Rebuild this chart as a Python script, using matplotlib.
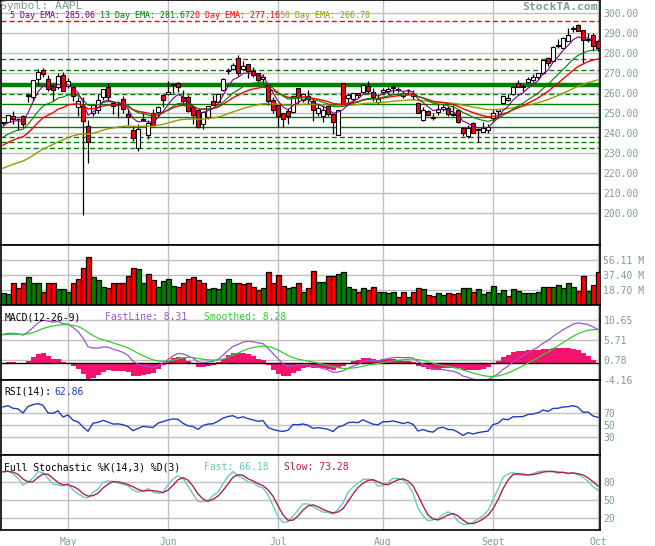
import numpy as np
import matplotlib.pyplot as plt

plt.rcParams['font.family'] = ['DejaVu Sans Mono']

# AAPL daily candles, 14 Apr - 1 Oct (one entry per session)
opens = [245.28, 245.78, 248.57, 247.03, 248.54, 258.80, 258.24, 267.00, 271.87, 267.27, 263.46, 263.02, 269.31,
         263.84, 262.93, 253.03, 253.62, 243.67, 250.25, 251.54, 257.99, 263.22, 255.20, 254.70, 257.06, 249.49, 241.88,
         232.82, 247.28, 239.35, 250.06, 250.47, 259.39,
         259.69, 264.54, 265.18, 258.21, 258.29, 253.24, 251.47, 244.84, 248.23, 255.96, 255.64, 261.68, 270.98, 272.16,
         277.69, 272.16, 274.58, 271.00, 270.06, 266.93, 264.12, 256.78,
         254.30, 250.05, 251.00, 250.54, 262.48, 256.89, 258.53, 256.20, 249.99, 248.60, 253.51, 249.88, 239.26, 265.09,
         257.68, 257.09, 260.00, 260.87, 263.67, 260.71, 255.89,
         260.44, 261.01, 262.84, 261.73, 258.78, 261.48, 258.75, 255.00, 246.69, 251.32, 247.58, 250.75, 252.36, 252.75,
         249.39, 251.79, 242.67, 238.52, 245.10, 241.75, 240.76, 241.85,
         247.47, 251.26, 255.09, 256.64, 259.78, 265.04, 263.19, 265.82, 266.85, 268.17, 270.24, 277.69, 276.08, 283.86,
         282.73, 286.00, 292.10, 293.93, 291.77, 286.45, 289.12,
         286.15]
highs = [245.81, 249.03, 251.14, 247.89, 249.25, 260.25, 266.75, 272.18, 272.46, 269.35, 264.59, 270.00, 270.57,
         267.88, 263.00, 258.14, 258.25, 246.57, 254.65, 259.90, 262.25, 265.00, 256.30, 256.18, 258.55, 252.80, 243.85,
         244.50, 250.90, 246.76, 252.13, 253.50, 259.40,
         265.94, 264.80, 265.55, 261.90, 259.15, 253.80, 251.90, 250.98, 253.86, 259.15, 259.85, 267.75, 272.90, 275.00,
         279.01, 275.97, 274.66, 273.20, 270.27, 269.75, 264.39, 257.97,
         254.80, 250.15, 252.80, 258.77, 262.90, 259.90, 261.85, 256.93, 254.90, 254.27, 253.89, 249.90, 251.90, 265.15,
         260.00, 260.38, 260.10, 264.80, 265.99, 262.65, 259.70,
         262.59, 263.26, 264.28, 263.18, 261.00, 262.15, 261.50, 255.51, 253.10, 251.87, 250.01, 254.63, 254.67, 253.64,
         253.92, 252.00, 243.00, 244.00, 245.75, 242.61, 245.75, 244.56,
         251.46, 252.17, 258.78, 259.53, 264.39, 266.52, 264.50, 268.28, 269.50, 270.38, 276.67, 277.96, 283.78, 287.35,
         287.98, 292.76, 293.53, 294.73, 291.77, 290.28, 290.00,
         286.58]
lows = [244.07, 245.51, 244.55, 241.77, 242.96, 255.73, 256.20, 264.10, 268.19, 261.25, 256.21, 262.01, 261.00,
        262.88, 256.19, 248.73, 199.25, 225.40, 248.53, 250.01, 256.52, 256.40, 249.48, 247.71, 250.27, 244.30, 236.21,
        231.35, 246.26, 237.16, 243.75, 248.23, 253.35,
        258.96, 260.33, 260.41, 254.63, 250.55, 244.65, 242.49, 242.20, 247.37, 254.01, 255.50, 261.02, 269.50, 271.42,
        268.73, 271.50, 267.90, 268.10, 265.81, 264.52, 254.30, 250.01,
        243.22, 243.20, 244.56, 250.00, 254.90, 255.73, 254.86, 246.15, 248.67, 245.66, 248.70, 239.60, 239.10, 254.00,
        255.31, 256.28, 257.71, 260.30, 260.25, 255.92, 254.61,
        259.62, 259.42, 260.30, 260.55, 257.59, 259.57, 256.43, 250.00, 246.12, 249.03, 246.62, 249.20, 251.26, 248.60,
        248.68, 245.25, 238.65, 237.56, 240.05, 235.56, 240.68, 240.35,
        246.28, 248.57, 254.50, 256.25, 259.10, 262.92, 261.40, 265.76, 265.50, 267.20, 269.50, 273.68, 275.85, 282.79,
        282.41, 286.00, 290.55, 291.01, 275.00, 285.52, 281.25,
        281.35]
closes = [245.69, 248.92, 247.40, 247.07, 244.59, 259.22, 266.47, 270.83, 269.50, 262.04, 261.60, 268.64, 261.09,
          266.35, 258.68, 255.98, 246.25, 235.86, 253.99, 256.52, 262.09, 258.36, 253.82, 254.22, 252.36, 248.34, 237.76,
          242.32, 246.76, 245.22, 244.11, 253.35, 256.88,
          260.83, 263.95, 263.12, 255.96, 250.94, 249.33, 243.20, 250.51, 253.51, 254.28, 259.69, 267.25, 271.87, 274.07,
          270.17, 273.85, 270.97, 269.00, 266.70, 268.30, 256.17, 251.53,
          248.48, 246.94, 248.63, 258.66, 258.09, 259.62, 257.28, 251.80, 252.73, 251.45, 249.90, 245.58, 251.89, 254.24,
          259.02, 259.94, 259.28, 264.08, 260.96, 258.11, 257.25,
          261.85, 261.93, 262.98, 261.70, 260.09, 261.75, 259.41, 250.19, 251.79, 249.10, 247.64, 251.97, 253.07, 249.88,
          249.64, 245.80, 239.93, 242.89, 240.28, 241.62, 242.50, 243.10,
          250.33, 252.17, 258.77, 257.81, 262.92, 263.07, 263.41, 267.04, 268.06, 270.22, 276.57, 275.37, 283.23, 283.77,
          287.75, 288.92, 292.32, 291.16, 286.86, 287.37, 283.75,
          282.52]
# volume in millions of shares, G = up day, R = down day
volumes = [14.6, 13.1, 27, 20.8, 27, 35, 28, 28, 16.6, 27, 27, 19.5, 19.5, 16.6, 27, 32, 46.5, 59.4, 35, 30.7,
           22.9, 21.6, 27, 27, 28, 36.6, 45.7, 44.5, 27, 38.2, 30.7, 22.9, 29.9, 32, 24.1, 22.9, 27, 32, 35, 30.7,
           28, 19.5, 21.6, 20, 28, 32, 28, 28, 26, 28, 22.9, 18.7, 20.8, 40.8, 27, 37, 24, 21.6, 22.9, 28,
           15.9, 21.6, 43, 29, 29, 36.6, 36.6, 38.2, 41.5, 22.9, 19.5, 15.9, 20.8, 18.7, 22.9, 15.9, 15.9, 14.6, 15.9, 10.4,
           15.9, 10.4, 15.9, 21.6, 19.5, 12.5, 11.6, 15.4, 12.5, 15.4, 13.3, 14.6, 21.6, 21.6, 16.6, 19.5, 13.3, 15.9, 24.1, 14.6,
           18.7, 11.6, 19.5, 17.4, 14.6, 14.6, 14.6, 16.6, 22.9, 22.9, 22.9, 24.9, 21.6, 28, 22.9, 17.4, 36.6, 17.4, 24.9, 40.8]
vol_dir = ("GGRRRGGGRR" "RGGGRRRRGG" "GRRRRRRGGR" "RGGGGRRRRR" "RGGGGGGRRR" "RRGRRRRGGR"
           "GRRGGR" "RGGGGRGRRG" "GGGRRGRRGR" "RGGRRRGGRG" "GGGGGRGGGG" "GGGRGGGGGR" "RGRR")

# 17 sessions before the window, used only for the stochastic lookback
pre_highs = [225.0, 226.0, 228.9, 229.9, 230.6, 231.5, 233.0, 236.6, 236.5, 236.6, 238.7, 240.2, 241.9, 241.2, 241.9, 243.0, 243.0]
pre_lows = [221.9, 220.0, 224.7, 225.7, 226.4, 228.0, 231.0, 232.7, 234.3, 232.5, 234.8, 237.5, 238.7, 237.2, 239.1, 241.8, 240.2]
pre_closes = [222.25, 224.75, 228.36, 229.37, 226.65, 230.90, 232.39, 235.84, 235.00, 235.97, 238.49, 239.54, 240.60,
              239.95, 241.79, 242.29, 242.43]

# indicator values at the left edge
ema5_start, ema13_start, ema20_start, ema50_start = 243.5, 238.0, 234.0, 222.5
ema12_start, ema26_start, signal_start = 239.0, 231.9, 7.0
rsi_gain_start, rsi_loss_start = 1.6, 0.4

# support / resistance levels
dashed_levels = [277.0, 271.5, 259.5, 238.0, 235.5, 232.5]
solid_levels = [254.8, 248.0, 243.2]
thick_level = 264.2
red_level = 296.2

month_pos = [13, 33, 55, 76, 98, 119]
month_names = ['May', 'Jun', 'Jul', 'Aug', 'Sept', 'Oct']
price_ticks = list(range(200, 310, 10))
vol_ticks = [18.70, 37.40, 56.11]
macd_ticks = [-4.16, 0.78, 5.71, 10.65]
rsi_ticks = [30, 50, 70]
stoch_ticks = [20, 50, 80]

label_col = '#7f9f8f'
grid_col = '#c0c0c0'


def ema(values, span, first):
    k = 2.0 / (span + 1)
    out = [first]
    for v in values[1:]:
        out.append(out[-1] + k * (v - out[-1]))
    return np.array(out)


n = len(closes)
x = np.arange(n)
o, h, l, c = map(np.array, (opens, highs, lows, closes))

ema5 = ema(closes, 5, ema5_start)
ema13 = ema(closes, 13, ema13_start)
ema20 = ema(closes, 20, ema20_start)
ema50 = ema(closes, 50, ema50_start)

macd = ema(closes, 12, ema12_start) - ema(closes, 26, ema26_start)
signal = ema(macd, 9, signal_start)
hist = (macd - signal) * 1.2

gain, loss = rsi_gain_start, rsi_loss_start
rsi = [100 - 100 / (1 + gain / loss)]
for i in range(1, n):
    d = closes[i] - closes[i - 1]
    gain = (gain * 13 + max(d, 0)) / 14
    loss = (loss * 13 + max(-d, 0)) / 14
    rsi.append(100 - 100 / (1 + gain / loss))

all_h = pre_highs + highs
all_l = pre_lows + lows
all_c = pre_closes + closes
raw_k = []
for i in range(13, len(all_c)):
    hh, ll = max(all_h[i - 13:i + 1]), min(all_l[i - 13:i + 1])
    raw_k.append(100 * (all_c[i] - ll) / (hh - ll))
fast = np.convolve(raw_k, np.ones(3) / 3, 'valid')
slow = np.convolve(fast, np.ones(3) / 3, 'valid')
fast = fast[2:]

W, H = 655, 546
fig = plt.figure(figsize=(W / 100, H / 100), dpi=100)


def panel(top, bottom):
    ax = fig.add_axes([1 / W, 1 - bottom / H, 599 / W, (bottom - top) / H])
    ax.set_xlim(-0.4, n - 0.6)
    ax.set_xticks(month_pos)
    ax.xaxis.grid(True, color=grid_col, lw=1)
    ax.yaxis.tick_right()
    ax.tick_params(axis='both', length=0, labelsize=7, labelcolor=label_col, pad=2.5)
    ax.tick_params(axis='x', labelbottom=False)
    for s in ax.spines.values():
        s.set_color('black')
        s.set_linewidth(1.2)
    ax.set_axisbelow(True)
    return ax


def ptext(px, py, s, color='black', size=7, **kw):
    fig.text(px / W, 1 - py / H, s, color=color, fontsize=size, va='center', **kw)


# price panel
ax = panel(0, 245)
ax.set_ylim(184.15, 306.65)
ax.set_yticks(price_ticks)
ax.set_yticklabels(['%.2f' % v for v in price_ticks])
ax.yaxis.grid(True, color=grid_col, lw=1)
for lev in dashed_levels:
    ax.axhline(lev, color='#008000', lw=1.0, ls=(0, (3.6, 2.2)), zorder=1)
for lev in solid_levels:
    ax.axhline(lev, color='#008000', lw=1.0, zorder=1)
ax.axhline(thick_level, color='#008000', lw=3.2, zorder=1)
ax.axhline(red_level, color='#ff0000', lw=1.0, ls=(0, (3.6, 2.2)), zorder=1)
ax.vlines(x, l, h, color='black', lw=0.9, zorder=2)
body_col = np.where(c >= o, 'white', '#ff0000')
body_h = np.maximum(np.abs(c - o), 0.35)
ax.bar(x, body_h, bottom=np.minimum(o, c), width=0.8, color=body_col, edgecolor='black', lw=0.8, zorder=3)
ax.plot(x, ema50, color='#999900', lw=1.0, zorder=4)
ax.plot(x, ema20, color='#ff0000', lw=1.0, zorder=4)
ax.plot(x, ema13, color='#008000', lw=0.8, zorder=4)
ax.plot(x, ema5, color='#800080', lw=0.8, zorder=4)

# volume panel
ax = panel(245, 305)
ax.set_ylim(0, 74.8)
ax.set_yticks(vol_ticks)
ax.set_yticklabels(['%.2f M' % v for v in vol_ticks])
ax.yaxis.grid(True, color=grid_col, lw=1)
vcol = ['#008000' if d == 'G' else '#ff0000' for d in vol_dir]
ax.bar(x, volumes, width=1.0, color=vcol, edgecolor='black', lw=0.9, zorder=3)

# MACD panel
ax = panel(305, 380)
ax.set_ylim(-4.16, 14.35)
ax.set_yticks(macd_ticks)
ax.set_yticklabels(['%.2f' % v for v in macd_ticks])
ax.yaxis.grid(True, color=grid_col, lw=1)
ax.bar(x, hist, width=1.0, color='#f5136f', lw=0, zorder=2)
ax.axhline(0, color='black', lw=1.0, zorder=3)
ax.plot(x, macd, color='#9955cc', lw=0.9, zorder=4)
ax.plot(x, signal, color='#33cc33', lw=0.9, zorder=4)

# RSI panel
ax = panel(380, 455)
ax.set_ylim(0, 125)
ax.set_yticks(rsi_ticks)
ax.yaxis.grid(True, color=grid_col, lw=1)
ax.plot(x, rsi, color='#1a3fc0', lw=1.0)

# stochastic panel
ax = panel(455, 530)
ax.set_ylim(0, 125)
ax.set_yticks(stoch_ticks)
ax.yaxis.grid(True, color=grid_col, lw=1)
ax.plot(x, fast, color='#66ccbb', lw=1.0)
ax.plot(x, slow, color='#b02050', lw=1.0)
ax.tick_params(axis='x', labelbottom=True, pad=5)
ax.set_xticklabels(month_names)

# headers
ptext(0, 6, 'Symbol: AAPL', label_col, 8.2)
ptext(598, 7, 'StockTA.com', label_col, 8.2, ha='right', fontweight='bold')
ptext(10, 15, '5 Day EMA: 285.06', '#800080', 6.0)
ptext(100, 15, '13 Day EMA: 281.67', '#008000', 6.0)
ptext(190, 15, '20 Day EMA: 277.16', '#ff0000', 6.0)
ptext(280, 15, '50 Day EMA: 266.70', '#999900', 6.0)
ptext(5, 317, 'MACD(12-26-9)')
ptext(105, 317, 'FastLine: 8.31', '#9955cc')
ptext(204, 317, 'Smoothed: 8.28', '#33cc33')
ptext(4, 392, 'RSI(14):')
ptext(54, 392, '62.86', '#1a3fc0')
ptext(4, 467, 'Full Stochastic %K(14,3) %D(3)')
ptext(204, 467, 'Fast: 66.18', '#66ccbb')
ptext(284, 467, 'Slow: 73.28', '#b02050')

fig.savefig('out.png', dpi=100)
